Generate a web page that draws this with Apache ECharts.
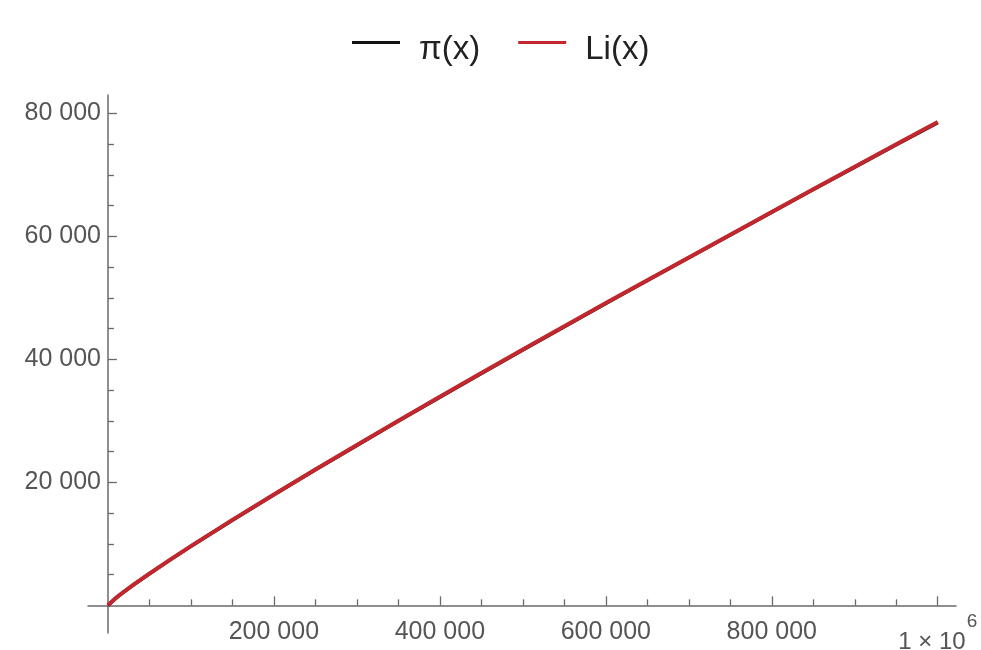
<!DOCTYPE html>
<html>
<head>
<meta charset="utf-8">
<script src="https://cdn.jsdelivr.net/npm/echarts@6/dist/echarts.min.js"></script>
<style>html,body{margin:0;padding:0;background:#fff}#c{width:981px;height:650px}</style>
</head>
<body>
<div id="c"></div>
<script>
// x values sampled
const xs = [0, 10000, 20000, 30000, 40000, 50000, 75000, 100000, 150000, 200000, 250000, 300000, 350000, 400000, 450000, 500000, 550000, 600000, 650000, 700000, 750000, 800000, 850000, 900000, 950000, 1000000];
// prime counting function pi(x)
const piVals = [0, 1229, 2262, 3245, 4203, 5133, 7393, 9592, 13848, 17984, 22044, 25997, 29977, 33860, 37706, 41538, 45322, 49098, 52831, 56543, 60238, 63951, 67617, 71274, 74921, 78498];
// logarithmic integral Li(x)
const liVals = [0, 1246, 2288, 3275, 4230, 5166, 7428, 9630, 13898, 18036, 22090, 26062, 30032, 33922, 37775, 41606, 45401, 49161, 52889, 56588, 60260, 63990, 67670, 71330, 74980, 78627];

const xMajorTicks = [200000, 400000, 600000, 800000, 1000000];
const xMinorTicks = [50000, 100000, 150000, 250000, 300000, 350000, 450000, 500000, 550000, 650000, 700000, 750000, 850000, 900000, 950000];
const yMajorTicks = [20000, 40000, 60000, 80000];
const yMinorTicks = [5000, 10000, 15000, 25000, 30000, 35000, 45000, 50000, 55000, 65000, 70000, 75000];

const fmt = v => String(v).replace(/\B(?=(\d{3})+(?!\d))/g, ' ');
const axisColor = '#6a6a6a';
const labelColor = '#555';
const font = '"Liberation Sans", Arial, sans-serif';

const XMIN = -24000, XMAX = 1022000, YMIN = -4500, YMAX = 83000;

// legend icon: 48x3 bar at the top of a 48x17 box (line sits above text centre)
const legendIcon = 'path://M0,0L48,0L48,3L0,3Z M0,17L0,17Z';

const chart = echarts.init(document.getElementById('c'), null, {renderer: 'canvas'});
chart.setOption({
  animation: false,
  backgroundColor: '#fff',
  legend: {
    data: ['π(x)', 'Li(x)'],
    top: 33,
    left: 352,
    padding: 0,
    icon: legendIcon,
    itemWidth: 48,
    itemHeight: 17,
    itemGap: 38,
    textStyle: {fontFamily: font, fontSize: 33, color: '#222', padding: [0, 0, 0, 14]}
  },
  grid: {left: 88, right: 25, top: 95, bottom: 17, outerBoundsMode: 'none', containLabel: false},
  xAxis: [
    {
      type: 'value', min: XMIN, max: XMAX, position: 'bottom',
      axisLine: {onZero: true, onZeroAxisIndex: 0, lineStyle: {color: axisColor, width: 1.5}},
      axisTick: {inside: true, length: 9, customValues: xMajorTicks, lineStyle: {color: axisColor, width: 1.3}},
      axisLabel: {
        customValues: xMajorTicks, margin: -26, color: labelColor, fontFamily: font, fontSize: 25,
        formatter: v => v === 1000000 ? '{a|1 × 10}{s|6}' : '{b|' + fmt(v) + '}',
        rich: {
          b: {fontFamily: font, fontSize: 25, color: labelColor, padding: [13, 0, 0, 0]},
          a: {fontFamily: font, fontSize: 24, color: labelColor, padding: [23, 0, 0, 0]},
          s: {fontFamily: font, fontSize: 19, color: labelColor, verticalAlign: 'top', padding: [5, 0, 0, 1]}
        }
      },
      splitLine: {show: false}
    },
    {
      type: 'value', min: XMIN, max: XMAX, position: 'bottom',
      axisLine: {show: false, onZero: true, onZeroAxisIndex: 0},
      axisTick: {inside: true, length: 6, customValues: xMinorTicks, lineStyle: {color: axisColor, width: 1.3}},
      axisLabel: {show: false},
      splitLine: {show: false}
    }
  ],
  yAxis: [
    {
      type: 'value', min: YMIN, max: YMAX, position: 'left',
      axisLine: {show: true, onZero: true, onZeroAxisIndex: 0, lineStyle: {color: axisColor, width: 1.5}},
      axisTick: {show: true, inside: true, length: 9, customValues: yMajorTicks, lineStyle: {color: axisColor, width: 1.3}},
      axisLabel: {customValues: yMajorTicks, margin: -13, color: labelColor, fontFamily: font, fontSize: 25, formatter: fmt},
      splitLine: {show: false}
    },
    {
      type: 'value', min: YMIN, max: YMAX, position: 'left',
      axisLine: {show: false, onZero: true, onZeroAxisIndex: 0},
      axisTick: {show: true, inside: true, length: 6, customValues: yMinorTicks, lineStyle: {color: axisColor, width: 1.3}},
      axisLabel: {show: false},
      splitLine: {show: false}
    }
  ],
  series: [
    {
      name: 'π(x)', type: 'line', xAxisIndex: 0, yAxisIndex: 0, symbol: 'none',
      color: '#111', lineStyle: {width: 3.5, color: '#111'},
      data: xs.map((x, i) => [x, piVals[i]])
    },
    {
      name: 'Li(x)', type: 'line', xAxisIndex: 0, yAxisIndex: 0, symbol: 'none',
      color: '#c1272d', lineStyle: {width: 4, color: '#c1272d'},
      data: xs.map((x, i) => [x, liVals[i]])
    }
  ]
});
</script>
</body>
</html>
